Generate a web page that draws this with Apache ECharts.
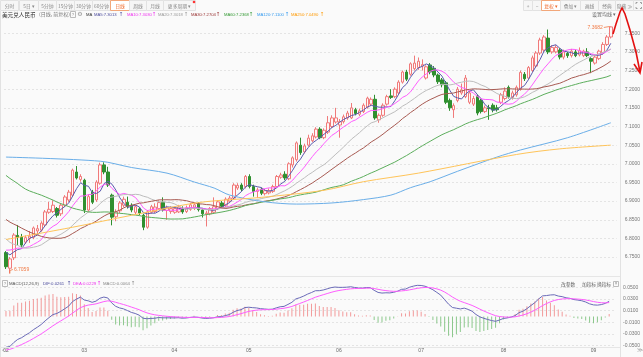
<!DOCTYPE html>
<html><head><meta charset="utf-8">
<script src="https://cdn.jsdelivr.net/npm/echarts@6/dist/echarts.min.js"></script>
<style>html,body{margin:0;padding:0;background:#fafafa}#c{width:643px;height:357px}</style>
</head><body><div id="c"></div>
<script>
// ---------------- DATA ----------------
const monthLabels   = ['02','03','04','05','06','07','08','09'];
const monthSessions = [20, 23, 19, 23, 21, 21, 23, 5];

const opens = [6.762,6.720,6.748,6.808,6.803,6.790,6.800,6.803,6.820,6.822,6.836,6.870,6.872,6.880,6.866,6.889,6.903,6.916,6.978,6.958,
6.956,6.876,6.924,6.903,6.948,6.997,6.978,6.916,6.858,6.874,6.889,6.897,6.889,6.870,6.879,6.862,6.830,6.870,6.872,6.880,6.897,6.875,6.872,
6.870,6.871,6.880,6.872,6.878,6.880,6.893,6.876,6.866,6.866,6.870,6.880,6.895,6.889,6.900,6.908,6.935,6.943,6.939,
6.966,6.939,6.926,6.932,6.920,6.922,6.926,6.939,6.964,6.972,6.960,6.997,7.011,7.050,7.032,7.050,7.062,7.072,7.093,7.070,7.085,7.100,7.112,
7.104,7.113,7.123,7.123,7.145,7.133,7.140,7.152,7.160,7.173,7.118,7.130,7.160,7.182,7.180,7.190,7.219,7.246,7.240,7.255,7.258,
7.262,7.230,7.265,7.256,7.238,7.225,7.217,7.170,7.145,7.170,7.190,7.180,7.165,7.160,7.180,7.170,7.140,7.150,7.157,7.150,7.165,
7.175,7.205,7.178,7.185,7.200,7.240,7.230,7.250,7.262,7.297,7.305,7.337,7.300,7.300,7.305,7.286,7.296,7.290,7.300,7.292,7.290,7.300,7.282,
7.270,7.282,7.297,7.320,7.340];
const closes = [6.724,6.745,6.809,6.803,6.782,6.802,6.806,6.828,6.826,6.841,6.871,6.878,6.889,6.862,6.889,6.911,6.924,6.983,6.962,6.966,
6.876,6.912,6.897,6.951,6.997,6.978,6.943,6.857,6.871,6.895,6.905,6.886,6.876,6.885,6.868,6.830,6.871,6.885,6.884,6.896,6.876,6.882,6.880,
6.880,6.884,6.871,6.882,6.890,6.890,6.877,6.866,6.868,6.880,6.885,6.898,6.886,6.905,6.908,6.943,6.942,6.932,6.966,
6.939,6.926,6.930,6.921,6.928,6.928,6.939,6.966,6.970,6.962,7.000,7.016,7.056,7.030,7.048,7.069,7.075,7.093,7.070,7.090,7.110,7.123,7.123,
7.113,7.126,7.136,7.150,7.135,7.142,7.157,7.176,7.173,7.123,7.130,7.157,7.180,7.178,7.200,7.219,7.246,7.227,7.268,7.270,7.275,
7.266,7.260,7.246,7.238,7.220,7.212,7.165,7.150,7.156,7.200,7.198,7.230,7.190,7.175,7.136,7.140,7.150,7.148,7.144,7.145,7.185,
7.195,7.180,7.190,7.205,7.245,7.228,7.258,7.284,7.297,7.332,7.340,7.300,7.312,7.312,7.286,7.300,7.290,7.302,7.290,7.303,7.302,7.290,7.275,
7.286,7.302,7.320,7.340,7.367];
const highs = [6.766,6.750,6.814,6.836,6.812,6.808,6.820,6.832,6.836,6.846,6.876,6.898,6.902,6.884,6.893,6.916,6.930,6.987,6.994,6.972,
6.960,6.918,6.930,6.956,7.003,7.004,6.992,6.920,6.878,6.900,6.912,6.912,6.894,6.890,6.884,6.866,6.876,6.890,6.894,6.902,6.910,6.888,6.886,
6.885,6.890,6.886,6.888,6.895,6.896,6.897,6.880,6.874,6.884,6.910,6.902,6.900,6.910,6.914,6.948,6.948,6.948,6.970,
6.972,6.944,6.936,6.936,6.932,6.934,6.944,6.970,6.976,6.980,7.004,7.020,7.060,7.070,7.054,7.078,7.082,7.098,7.098,7.095,7.128,7.130,7.150,
7.120,7.132,7.142,7.163,7.150,7.148,7.162,7.180,7.178,7.185,7.135,7.162,7.185,7.200,7.205,7.224,7.250,7.252,7.272,7.290,7.285,
7.280,7.264,7.270,7.262,7.242,7.230,7.222,7.175,7.162,7.206,7.215,7.238,7.196,7.182,7.186,7.175,7.156,7.158,7.162,7.158,7.190,
7.205,7.210,7.196,7.210,7.250,7.246,7.262,7.290,7.302,7.338,7.345,7.360,7.318,7.318,7.310,7.306,7.300,7.308,7.306,7.312,7.306,7.310,7.286,
7.292,7.306,7.326,7.345,7.3682];
const lows = [6.718,6.7059,6.742,6.782,6.776,6.785,6.788,6.798,6.812,6.818,6.832,6.866,6.868,6.856,6.860,6.884,6.898,6.912,6.958,6.952,
6.868,6.870,6.892,6.898,6.944,6.972,6.938,6.835,6.846,6.868,6.884,6.880,6.870,6.865,6.862,6.822,6.826,6.866,6.868,6.876,6.872,6.850,6.866,
6.866,6.868,6.866,6.868,6.874,6.876,6.872,6.856,6.832,6.862,6.866,6.876,6.882,6.884,6.896,6.904,6.930,6.926,6.934,
6.934,6.912,6.908,6.916,6.915,6.918,6.922,6.935,6.960,6.956,6.956,6.990,7.006,7.024,7.028,7.046,7.058,7.068,7.066,7.066,7.080,7.096,7.108,
7.070,7.108,7.118,7.120,7.130,7.128,7.136,7.148,7.155,7.118,7.110,7.126,7.156,7.174,7.176,7.186,7.215,7.222,7.236,7.250,7.252,
7.250,7.226,7.240,7.232,7.214,7.205,7.160,7.142,7.123,7.165,7.185,7.176,7.160,7.155,7.130,7.135,7.136,7.118,7.138,7.140,7.160,
7.170,7.175,7.172,7.180,7.196,7.222,7.226,7.246,7.258,7.292,7.300,7.294,7.295,7.296,7.280,7.280,7.284,7.285,7.286,7.288,7.286,7.286,7.243,
7.266,7.278,7.293,7.316,7.336];

// closes before the visible window, estimated so the MA / MACD lines start where the picture shows them
const priorCloses = [7.32,7.23,7.22,7.24,7.25,7.21,7.10,7.06,7.04,7.07,7.13,7.15,7.16,7.17,7.14,7.15,7.17,7.22,7.14,7.10,
7.05,7.04,6.96,6.96,6.96,6.95,6.94,6.96,6.94,6.94,6.96,6.96,6.97,6.95,6.96,6.96,6.96,6.95,6.94,6.95,6.95,6.93,
6.91,6.87,6.88,6.85,6.79,6.79,6.78,6.76,6.73,6.74,6.79,6.77,6.79,6.78,6.78,6.77,6.77,6.77];

// long moving averages: [session index, value]
const ma120Read = [[0,7.018],[24,7.007],[32,6.990],[41,6.975],[48,6.951],[53,6.935],[57,6.916],[66,6.898],[74,6.892],[83,6.895],
[91,6.904],[98,6.916],[103,6.936],[108,6.952],[115,6.980],[125,7.018],[131,7.037],[143,7.070],[154,7.110]];
const ma250Read = [[0,6.797],[17,6.830],[32,6.862],[49,6.896],[65,6.910],[81,6.929],[91,6.952],[105,6.975],[130,7.025],[141,7.040],[154,7.050]];

const maHeader = [['MA5:7.3013','#4a4a9c'],['MA10:7.3030','#ee33ee'],['MA20:7.3018','#999999'],['MA30:7.2704','#993333'],
  ['MA60:7.2368','#339933'],['MA120:7.1100','#3399ee'],['MA250:7.0490','#ff9900']];
const macdHeader = [['DIF:0.0261','#4a4a9c'],['DEA:0.0229','#ee33ee'],['MACD:0.0064','#888888']];

// ---------------- BUILD ----------------
const cats = []; const monthStart = new Set();
monthLabels.forEach((m, k) => { monthStart.add(cats.length); for (let d = 1; d <= monthSessions[k]; d++) cats.push(m + '/' + d); });
cats.push(' ');
const N = closes.length;
const candle = closes.map((c, i) => [opens[i], c, lows[i], highs[i]]);
const all = priorCloses.concat(closes); const P = priorCloses.length;
function ma(n) { return closes.map((_, i) => { const e = P + i, s = e - n + 1; if (s < 0) return null; let t = 0; for (let k = s; k <= e; k++) t += all[k]; return +(t / n).toFixed(4); }); }
function sparse(arr) { const out = new Array(N).fill(null); arr.forEach(([i, v]) => out[i] = v); return out; }
let e12 = all[0], e26 = all[0], dea = 0; const DIF = [], DEA = [], HIST = [];
all.forEach((c, k) => { e12 = e12 * 11 / 13 + c * 2 / 13; e26 = e26 * 25 / 27 + c * 2 / 27; const dif = e12 - e26; dea = dea * 0.8 + dif * 0.2;
  if (k >= P) { DIF.push(+dif.toFixed(5)); DEA.push(+dea.toFixed(5)); HIST.push(+(2 * (dif - dea)).toFixed(5)); } });

const maDefs = [[5,'#5a5aae'],[10,'#ff5cff'],[20,'#bdbdbd'],[30,'#a85a52'],[60,'#5cae5c']];
const lineSeries = maDefs.map(([n, col]) => ({ type: 'line', data: ma(n), showSymbol: false, symbol: 'none', lineStyle: { width: 1, color: col }, z: 5, silent: true }));
lineSeries.push({ type: 'line', data: sparse(ma120Read), connectNulls: true, smooth: 0.3, symbol: 'none', lineStyle: { width: 1, color: '#6aaee8' }, z: 5, silent: true });
lineSeries.push({ type: 'line', data: sparse(ma250Read), connectNulls: true, smooth: 0.3, symbol: 'none', lineStyle: { width: 1, color: '#ffc459' }, z: 5, silent: true });

const FONT = 'Noto Sans CJK SC';
const LAT = 'Liberation Sans';
const G = [];
function txt(x, y, t, color, size, align, fam) { G.push({ type: 'text', x, y, silent: true, z: 100, style: { text: t, fill: color, fontSize: size, fontFamily: fam || FONT, align: align || 'left', verticalAlign: 'middle' } }); }
function box(x, y, w, h, stroke, fill) { G.push({ type: 'rect', shape: { x, y, width: w, height: h }, silent: true, z: 90, style: { fill: fill || '#f6f6f6', stroke, lineWidth: 1 } }); }
function seg(pts, color, w, z) { G.push({ type: 'polyline', shape: { points: pts }, silent: true, z: z || 95, style: { stroke: color, lineWidth: w || 1, fill: null } }); }

// frame lines
seg([[620.5, 11], [620.5, 357]], '#e2e2e2', 1, 10);
seg([[0.5, 11], [0.5, 357]], '#e2e2e2', 1, 10);
seg([[0, 276.5], [620, 276.5]], '#e6e6e6', 1, 10);
seg([[0, 347.5], [620, 347.5]], '#e6e6e6', 1, 10);
// toolbar
const leftBtns = [['分时',0,18],['5日 ▾',19,19],['5分钟',38,18],['15分钟',56,18],['30分钟',74,18],['60分钟',92,18],['日线',110,19,1],['周线',129,17],['月线',146,17],['更多周期 ▾',163,32]];
const rightBtns = [['+',523,9],['−',532,9],['复权 ▾',541,19,1],['叠加 ▾',560,20],['画线',580,18],['经典',598,17],['隐藏 ≫',615,18],['',633,10]];
leftBtns.concat(rightBtns).forEach(([t, x, w, act]) => { box(x + 0.5, 0.5, w, 10, act ? '#f2a77a' : '#e2e2e2', act ? '#ffffff' : '#f6f6f6'); txt(x + w / 2 + 0.5, 6, t, act ? '#f06a2a' : '#888', 4.8, 'center'); });
G.push({ type: 'circle', shape: { cx: 194, cy: 2, r: 1.3 }, silent: true, z: 101, style: { fill: '#ff3333' } });
seg([[636, 4], [636, 2.5], [637.5, 2.5]], '#888', 0.8, 101); seg([[640, 2.5], [641.5, 2.5], [641.5, 4]], '#888', 0.8, 101);
seg([[636, 7], [636, 8.5], [637.5, 8.5]], '#888', 0.8, 101); seg([[640, 8.5], [641.5, 8.5], [641.5, 7]], '#888', 0.8, 101);
// header row
txt(2, 14.5, '美元兑人民币', '#333', 5.6);
txt(39, 14.5, '(日线, 前复权)', '#777', 5);
box(70.5, 11.5, 5, 6, '#bbb', '#fafafa'); txt(73, 14.7, '?', '#888', 4.2, 'center', LAT);
txt(80, 14.5, '⚙', '#999', 6, 'center', 'DejaVu Sans');
txt(86, 14.5, 'MA', '#333', 4.2, 'left', LAT);
const maX = [94, 127, 158, 191, 224, 257, 291];
const arX = [121, 154, 186, 218, 251, 287, 322];
maHeader.forEach(([t, c], k) => { txt(maX[k], 14.5, t, c, 4.2, 'left', LAT); txt(arX[k], 14.5, '↑', c, 5.5, 'center', 'DejaVu Sans'); });
txt(616, 14.5, '设置均线 ▾', '#666', 5, 'right');
// macd header
box(2.5, 280.5, 5, 6, '#bbb', '#fafafa'); txt(5, 283.7, '?', '#888', 4.2, 'center', LAT);
txt(9, 283.5, 'MACD(12,26,9)', '#555', 4.3, 'left', LAT);
const mX = [43, 73, 103], mA = [69, 99, 133];
macdHeader.forEach(([t, c], k) => { txt(mX[k], 283.5, t, c, 4.3, 'left', LAT); txt(mA[k], 283.5, '↑', c, 5.5, 'center', 'DejaVu Sans'); });
txt(561, 284, '改参数', '#666', 4.8); txt(582, 284, '加指标', '#666', 4.8); txt(597, 284, '换指标', '#666', 4.8);
box(613.5, 281.5, 5, 5, '#bbb', '#fafafa'); txt(616, 284, '×', '#888', 4.5, 'center', LAT);
txt(2, 350.5, '<', '#999', 5, 'left', LAT); txt(637, 350.5, '≫', '#999', 6, 'left', 'DejaVu Sans');

const option = {
  animation: false, backgroundColor: '#fafafa',
  grid: [ { left: 4, top: 14.6, width: 616.2, height: 261.1 }, { left: 4, top: 281.5, width: 616.2, height: 64.1 } ],
  xAxis: [
    { type: 'category', gridIndex: 0, data: cats, boundaryGap: true, axisLine: { show: false }, axisTick: { show: false }, axisLabel: { show: false }, splitLine: { show: false } },
    { type: 'category', gridIndex: 1, data: cats, boundaryGap: true, axisLine: { show: false }, axisTick: { show: false }, splitLine: { show: false },
      axisLabel: { interval: (i) => monthStart.has(i), formatter: (v) => v.split('/')[0], fontSize: 5, color: '#666', fontFamily: LAT, margin: 3 } }
  ],
  yAxis: [
    { type: 'value', gridIndex: 0, position: 'right', min: 6.70, max: 7.40, interval: 0.05, axisLine: { show: false }, axisTick: { show: false },
      axisLabel: { fontSize: 5, color: '#777', fontFamily: LAT, margin: 8, showMinLabel: false, showMaxLabel: false, formatter: v => v.toFixed(4) },
      splitLine: { show: true, showMinLine: false, showMaxLine: false, lineStyle: { color: '#e4e4e4', type: [2, 2] } } },
    { type: 'value', gridIndex: 1, position: 'right', min: -0.05, max: 0.06, interval: 0.02, axisLine: { show: false }, axisTick: { show: false },
      axisLabel: { fontSize: 5, color: '#777', fontFamily: LAT, margin: 8, showMinLabel: true, showMaxLabel: false, formatter: v => v.toFixed(4) },
      splitLine: { show: true, showMinLine: true, showMaxLine: false, lineStyle: { color: '#e4e4e4', type: [2, 2] } } }
  ],
  series: [
    { type: 'candlestick', xAxisIndex: 0, yAxisIndex: 0, data: candle, barWidth: 3, z: 3,
      itemStyle: { color: '#fff6f6', color0: '#2f8f2f', borderColor: '#f07a7a', borderColor0: '#2f8f2f', borderWidth: 1 } },
    ...lineSeries,
    { type: 'bar', xAxisIndex: 1, yAxisIndex: 1, data: HIST, barWidth: 1, silent: true,
      itemStyle: { color: p => p.value >= 0 ? '#f29a9a' : '#8cc88c' } },
    { type: 'line', xAxisIndex: 1, yAxisIndex: 1, data: DIF, symbol: 'none', clip: false, lineStyle: { width: 1, color: '#6a6ab8' }, z: 5, silent: true },
    { type: 'line', xAxisIndex: 1, yAxisIndex: 1, data: DEA, symbol: 'none', clip: false, lineStyle: { width: 1, color: '#ff5cff' }, z: 5, silent: true }
  ]
};
const chart = echarts.init(document.getElementById('c'), null, { renderer: 'canvas' });
chart.setOption(option);

// extreme price markers + red hand-drawn arrow
let hi = 0, lo = 0; highs.forEach((v, i) => { if (v > highs[hi]) hi = i; }); lows.forEach((v, i) => { if (v < lows[lo]) lo = i; });
const ph = chart.convertToPixel({ gridIndex: 0 }, [hi, highs[hi]]);
const pl = chart.convertToPixel({ gridIndex: 0 }, [lo, lows[lo]]);
seg([[ph[0] - 1, ph[1]], [ph[0] - 7, ph[1] + 1]], '#f07a45', 0.8);
txt(ph[0] - 8, ph[1] + 1, highs[hi].toFixed(4), '#f07a45', 5, 'right', LAT);
seg([[pl[0], pl[1]], [pl[0], pl[1] - 3], [pl[0] + 3, pl[1] - 4]], '#f07a45', 0.8);
txt(pl[0] + 4, pl[1] - 4, lows[lo].toFixed(4), '#f07a45', 5, 'left', LAT);
seg([[613, 34], [616, 24], [620, 12], [622, 8], [625, 14], [630, 30], [636, 52], [640, 72]], '#e31010', 1.6, 120);
seg([[634, 64], [640, 73], [642, 62]], '#e31010', 1.6, 120);
chart.setOption({ graphic: G });
</script></body></html>
